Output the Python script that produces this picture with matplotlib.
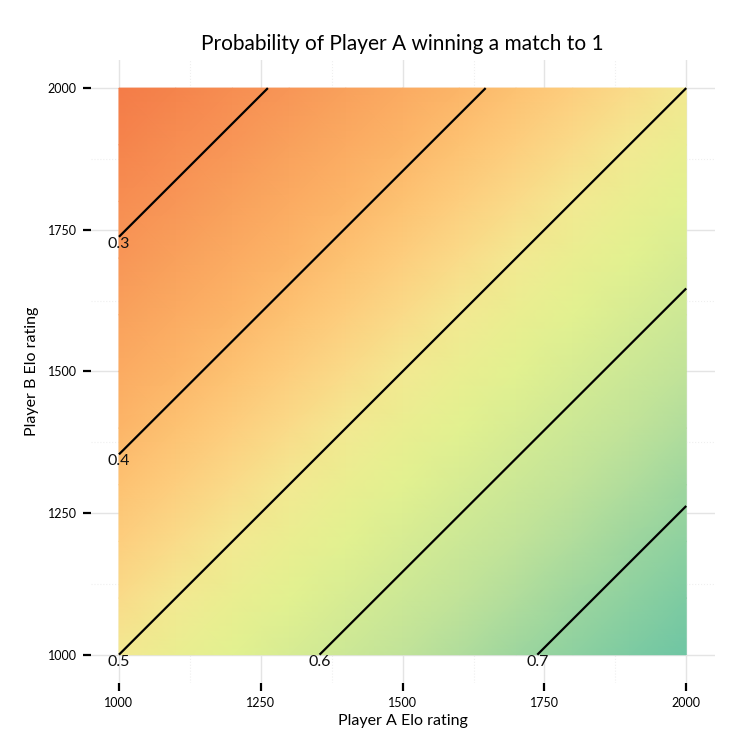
"""
Heatmap of the probability that Player A wins a match to 1,
given both players' Elo ratings.
"""
import matplotlib.pyplot as plt
import numpy as np
from matplotlib.colors import LinearSegmentedColormap

# Ratings on both axes (grid nodes)
ratings = [1000, 1100, 1200, 1300, 1400, 1500, 1600, 1700, 1800, 1900, 2000]

# Win probability of A against B, by rating difference (A - B)
rating_diff = [-1000, -900, -800, -700, -600, -500, -400, -300, -200, -100, 0,
               100, 200, 300, 400, 500, 600, 700, 800, 900, 1000]
win_prob = [0.240, 0.262, 0.285, 0.309, 0.334, 0.360, 0.387, 0.415, 0.443, 0.471, 0.500,
            0.529, 0.557, 0.585, 0.613, 0.640, 0.666, 0.691, 0.715, 0.738, 0.760]

contour_levels = [0.3, 0.4, 0.5, 0.6, 0.7]
tick_values = [1000, 1250, 1500, 1750, 2000]
minor_values = [1125, 1375, 1625, 1875]

# Build the probability grid: rows = Player B rating, columns = Player A rating
prob_by_diff = dict(zip(rating_diff, win_prob))
grid = np.array([[prob_by_diff[a - b] for a in ratings] for b in ratings])

cmap = LinearSegmentedColormap.from_list('elo', [
    (0.00, '#f47c48'),
    (0.30, '#fdb96a'),
    (0.42, '#fdd585'),
    (0.50, '#f3e992'),
    (0.60, '#e4f28f'),
    (0.78, '#bfe29a'),
    (1.00, '#6fc6a4'),
])

plt.rcParams['font.family'] = ['Lato', 'DejaVu Sans']

fig = plt.figure(figsize=(7.5, 7.5), dpi=100)
fig.patch.set_facecolor('white')
ax = fig.add_axes([0.1208, 0.0893, 0.832, 0.831])

ax.pcolormesh(ratings, ratings, grid, cmap=cmap, shading='gouraud',
              vmin=min(win_prob), vmax=max(win_prob), zorder=2)

cs = ax.contour(ratings, ratings, grid, levels=contour_levels,
                colors='black', linewidths=1.6, zorder=3)

# Label each contour at its lower-left end
for lvl, segs in zip(contour_levels, cs.allsegs):
    pts = np.vstack([s for s in segs if len(s)])
    start = pts[np.argmin(pts[:, 0] + pts[:, 1])]
    ax.text(start[0], start[1], f'{lvl:g}', ha='center', va='top',
            fontsize=11.5, color='#111111', zorder=4)

# Axes styling
ax.set_xlim(950, 2050)
ax.set_ylim(950, 2050)
ax.set_xticks(tick_values)
ax.set_yticks(tick_values)
ax.set_xticks(minor_values, minor=True)
ax.set_yticks(minor_values, minor=True)
ax.grid(True, which='major', color='#e4e4e4', linewidth=1, zorder=0)
ax.grid(True, which='minor', color='#efefef', linewidth=0.8, linestyle=':', zorder=0)
for spine in ax.spines.values():
    spine.set_visible(False)
ax.tick_params(which='major', direction='out', length=6, width=1.6,
               color='black', labelsize=9, pad=4)
ax.tick_params(which='minor', length=0)

ax.set_title('Probability of Player A winning a match to 1', fontsize=15, pad=7)
ax.set_xlabel('Player A Elo rating', fontsize=11.5, labelpad=4)
ax.set_ylabel('Player B Elo rating', fontsize=11.5, labelpad=6)

plt.savefig('out.png', dpi=100, facecolor='white')
plt.close()
